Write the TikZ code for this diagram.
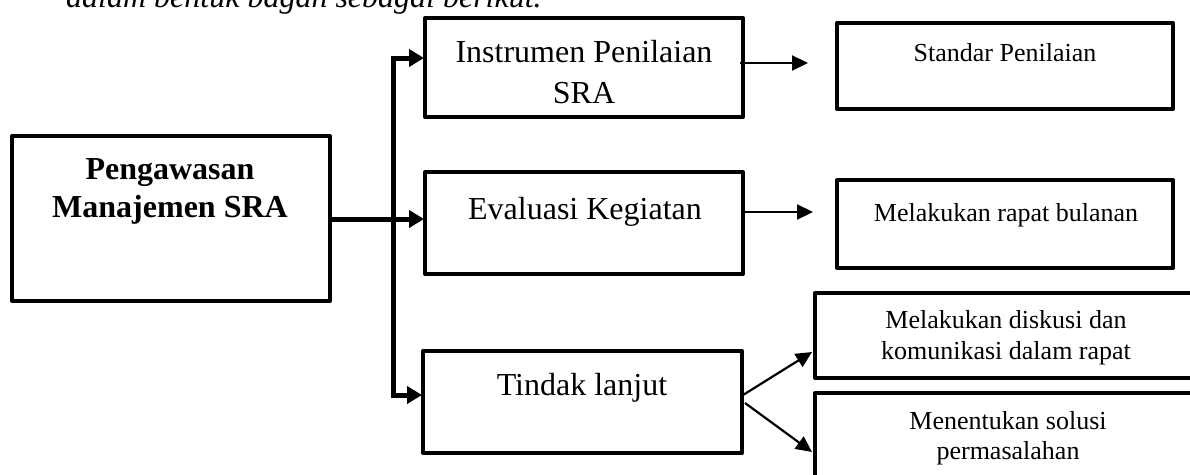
\documentclass[tikz,border=0pt]{standalone}
\usepackage{fontspec}
\setmainfont{Liberation Serif}
\usetikzlibrary{arrows.meta,calc}
\begin{document}
\begin{tikzpicture}[x=1pt,y=-1pt,
  box/.style={draw, line width=4pt, line join=round, rectangle, inner sep=0pt},
  bigtxt/.style={font=\fontsize{32}{40}\selectfont, align=center, inner sep=0pt},
  smalltxt/.style={font=\fontsize{26}{31}\selectfont, align=center, inner sep=0pt},
  thickarr/.style={line width=5pt, line join=miter, {Triangle[length=15pt,width=17pt]}-{Triangle[length=15pt,width=17pt]}},
  thickone/.style={line width=5pt, -{Triangle[length=15pt,width=17pt]}},
  thinarr/.style={line width=2.2pt, -{Triangle[length=16pt,width=15pt]}}]
\useasboundingbox (0,0) rectangle (1190,474);
\clip (0,0) rectangle (1190,474);
% intro text (cut off at top, as in the reference)
\node[font=\fontsize{32}{38}\selectfont\itshape, anchor=base west, inner sep=0pt] (intro) at (66,7) {dalam bentuk bagan sebagai berikut.};
% boxes
\node[box, minimum width=318pt, minimum height=165pt] (main) at (171,218.5) {};
\node[bigtxt, font=\fontsize{32}{38}\selectfont\bfseries] (mainT) at (170,191) {Pengawasan\\Manajemen SRA};
\node[box, minimum width=318pt, minimum height=99pt] (instr) at (584,67.5) {};
\node[bigtxt, font=\fontsize{32}{41}\selectfont] (instrT) at (584,72.5) {Instrumen Penilaian\\SRA};
\node[box, minimum width=318pt, minimum height=102pt] (eval) at (584,223) {};
\node[bigtxt] (evalT) at (585,212) {Evaluasi Kegiatan};
\node[box, minimum width=319pt, minimum height=102pt] (tindak) at (582.5,402) {};
\node[bigtxt] (tindakT) at (582,388) {Tindak lanjut};
\node[box, minimum width=336pt, minimum height=86pt] (std) at (1005,66) {};
\node[smalltxt] (stdT) at (1005,53) {Standar Penilaian};
\node[box, minimum width=336pt, minimum height=88pt] (rapat) at (1005,224) {};
\node[smalltxt] (rapatT) at (1006,215) {Melakukan rapat bulanan};
\node[box, minimum width=435pt, minimum height=85pt] (disk) at (1032.5,335.5) {};
\node[smalltxt] (diskT) at (1006,337.5) {Melakukan diskusi dan\\komunikasi dalam rapat};
\node[box, minimum width=435pt, minimum height=107pt] (sol) at (1032.5,446.5) {};
\node[smalltxt, font=\fontsize{26}{30}\selectfont] (solT) at (1008,438) {Menentukan solusi\\permasalahan};
% connectors
\coordinate (jt) at (393,58);
\coordinate (jb) at (393,395);
\coordinate (jm) at (393,219);
\draw[thickarr] ([xshift=1pt]instr.west |- jt) -- (jt) -- (jb) -- ([xshift=1pt]tindak.west |- jb);
\draw[thickone] (main.east |- jm) -- ([xshift=1pt]eval.west |- jm);
\coordinate (a1) at (740,63);
\coordinate (a2) at (745,212);
\draw[thinarr, shorten >=27pt] (a1) -- (std.west |- a1);
\draw[thinarr, shorten >=22pt] (a2) -- (rapat.west |- a2);
\coordinate (b1) at (743,395);
\coordinate (b2) at (745,403);
\coordinate (e1) at (812,352);
\coordinate (e2) at (812,452);
\draw[thinarr] (b1) -- (e1);
\draw[thinarr] (b2) -- (e2);
\end{tikzpicture}
\end{document}
